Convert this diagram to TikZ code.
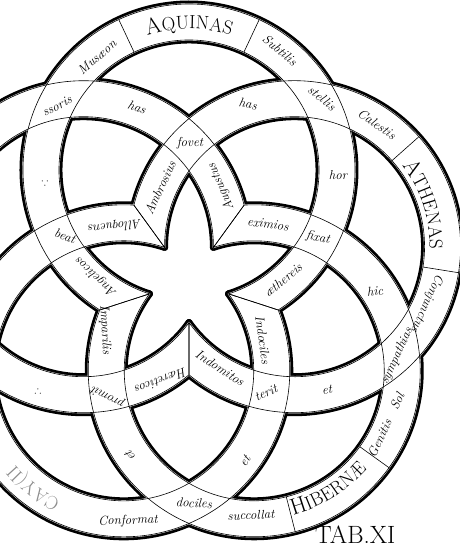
\documentclass[tikz,border=0pt]{standalone}
\usepackage{amssymb}
\usetikzlibrary{decorations.text}
\begin{document}
\begin{tikzpicture}[x=1pt,y=1pt,
  ringshade/.style={line width=7pt,line join=round},
  ringfill/.style={fill=white,draw=white,line width=1.4pt,line join=round},
  ringedge/.style={line width=0.6pt},
  word/.style={font=\fontsize{13}{13}\selectfont\itshape,inner sep=0pt}]
\clip (-189,-266) rectangle (271,281);

\draw[ringshade] (-18:41.56) arc[start angle=-72.30, end angle=252.30, radius=130] -- (198:93.8) arc[start angle=237.49, end angle=-57.49, radius=166] -- cycle;
\draw[ringshade] (-90:41.56) arc[start angle=-144.30, end angle=180.30, radius=130] -- (126:93.8) arc[start angle=165.49, end angle=-129.49, radius=166] -- cycle;
\draw[ringshade] (-162:41.56) arc[start angle=-216.30, end angle=108.30, radius=130] -- (54:93.8) arc[start angle=93.49, end angle=-201.49, radius=166] -- cycle;
\draw[ringshade] (126:41.56) arc[start angle=-288.30, end angle=36.30, radius=130] -- (-18:93.8) arc[start angle=21.49, end angle=-273.49, radius=166] -- cycle;
\draw[ringshade] (54:41.56) arc[start angle=-0.30, end angle=324.30, radius=130] -- (270:93.8) arc[start angle=309.49, end angle=14.51, radius=166] -- cycle;

\path[ringfill] (-18:41.56) arc[start angle=-72.30, end angle=252.30, radius=130] -- (198:93.8) arc[start angle=237.49, end angle=-57.49, radius=166] -- cycle;
\path[ringfill] (-90:41.56) arc[start angle=-144.30, end angle=180.30, radius=130] -- (126:93.8) arc[start angle=165.49, end angle=-129.49, radius=166] -- cycle;
\path[ringfill] (-162:41.56) arc[start angle=-216.30, end angle=108.30, radius=130] -- (54:93.8) arc[start angle=93.49, end angle=-201.49, radius=166] -- cycle;
\path[ringfill] (126:41.56) arc[start angle=-288.30, end angle=36.30, radius=130] -- (-18:93.8) arc[start angle=21.49, end angle=-273.49, radius=166] -- cycle;
\path[ringfill] (54:41.56) arc[start angle=-0.30, end angle=324.30, radius=130] -- (270:93.8) arc[start angle=309.49, end angle=14.51, radius=166] -- cycle;

\draw[ringedge] (-18:41.56) arc[start angle=-72.30, end angle=252.30, radius=130] -- (198:93.8) arc[start angle=237.49, end angle=-57.49, radius=166] -- cycle;
\draw[ringedge] (-90:41.56) arc[start angle=-144.30, end angle=180.30, radius=130] -- (126:93.8) arc[start angle=165.49, end angle=-129.49, radius=166] -- cycle;
\draw[ringedge] (-162:41.56) arc[start angle=-216.30, end angle=108.30, radius=130] -- (54:93.8) arc[start angle=93.49, end angle=-201.49, radius=166] -- cycle;
\draw[ringedge] (126:41.56) arc[start angle=-288.30, end angle=36.30, radius=130] -- (-18:93.8) arc[start angle=21.49, end angle=-273.49, radius=166] -- cycle;
\draw[ringedge] (54:41.56) arc[start angle=-0.30, end angle=324.30, radius=130] -- (270:93.8) arc[start angle=309.49, end angle=14.51, radius=166] -- cycle;

\draw[ringedge] (-54.9,228.8) -- (-70.2,261.4);
\draw[ringedge] (54.9,228.8) -- (70.2,261.4);
\draw[ringedge] (203.0,120.4) -- (229.9,144.3);
\draw[ringedge] (234.0,14.0) -- (269.5,8.3);
\draw[ringedge] (170.8,-165.7) -- (200.0,-186.7);
\draw[ringedge] (97.3,-215.8) -- (106.2,-250.7);

\path[decorate,decoration={text along path,text align=center,
  text={|\fontsize{23}{23}\selectfont|A|\fontsize{19}{19}\selectfont|QUINAS}}]
  (-59.6,238.8) arc[start angle=115, end angle=65, radius=141];
\path[decorate,decoration={text along path,text align=center,
  text={|\fontsize{23}{23}\selectfont|A|\fontsize{19}{19}\selectfont|THENAS}}]
  (209.0,121.1) arc[start angle=40, end angle=-4, radius=135];
\path[decorate,decoration={text along path,text align=center,
  text={|\fontsize{23}{23}\selectfont|H|\fontsize{19}{19}\selectfont|IBERNÆ}}]
  (91.2,-237.0) arc[start angle=-80, end angle=-36, radius=149.5];
\path[decorate,decoration={text along path,
  text={|\fontsize{19}{19}\selectfont\color{black!45}|CAY(II}}]
  (-128.3,-219.2) arc[start angle=-116, end angle=-165, radius=144];

\node[word,rotate=41] (musaeon) at (-92,224) {Musæon};
\node[word,rotate=-40] (subtilis) at (91,231) {Subtilis};
\node[word,rotate=-40] (stellis) at (133,183) {stellis};
\node[word] (hor) at (149,106) {hor};
\node[word,rotate=-12] (fixat) at (129,43) {fixat};
\node[word,rotate=40] (aethereis) at (94,1) {æthereis};
\node[word,rotate=137] (angelicos) at (-93,4) {Angelicos};
\node[word,rotate=-18] (beat) at (-124,45) {beat};
\node (dotsup) at (-144,99) {$\because$};
\node[word,rotate=27] (ssoris) at (-132,175) {ssoris};

\node[word,rotate=65] (ambrosius) at (-29,93) {Ambrosius};
\node[word] (fovet) at (1,138) {fovet};
\node[word,rotate=-10] (hasright) at (59,177) {has};
\node[word,rotate=-35] (calestis) at (188,157) {Calestis};
\node[word,rotate=-114] (conjunctus) at (238,-22) {Conjunctus};
\node[word,rotate=65] (sympathias) at (208,-75) {sympathias};
\node[word,rotate=5] (etright) at (138,-109) {et};
\node[word,rotate=25] (terit) at (77,-112) {terit};
\node[word,rotate=-33] (indomitos) at (31,-87) {Indomitos};

\node[word,rotate=-8] (eximios) at (79,57) {eximios};
\node[word,rotate=5] (hic) at (186,-10) {hic};
\node[word,rotate=65] (genitis) at (197,-144) {Genitis\quad Sol};
\node[word,rotate=2] (succollat) at (62,-234) {succollat};
\node[word,rotate=-3] (dociles) at (5,-222) {dociles};
\node[word,rotate=125] (etleft) at (-59,-175) {et};
\node[word,rotate=153] (promit) at (-81,-116) {promit};
\node[word,rotate=-87] (imparilis) at (-84,-49) {Imparilis};

\node[word,rotate=186] (alloquens) at (-74,55) {Alloquens};
\node[word,rotate=2] (conformat) at (-61,-240) {Conformat};
\node[word,rotate=55] (etlow) at (56,-180) {et};
\node[word,rotate=-82] (indociles) at (74,-59) {Indociles};

\node[word,rotate=113] (augustus) at (32,94) {Augustus};
\node[word,rotate=-20] (hasleft) at (-52,174) {has};
\node (dotslow) at (-151,-109) {$\therefore$};
\node[word,rotate=201] (haereticos) at (-28,-100) {Hæreticos};

\node[anchor=north west,inner sep=0pt,font=\fontsize{25}{25}\selectfont] (tab) at (126,-245) {TAB.XI};
\end{tikzpicture}
\end{document}
